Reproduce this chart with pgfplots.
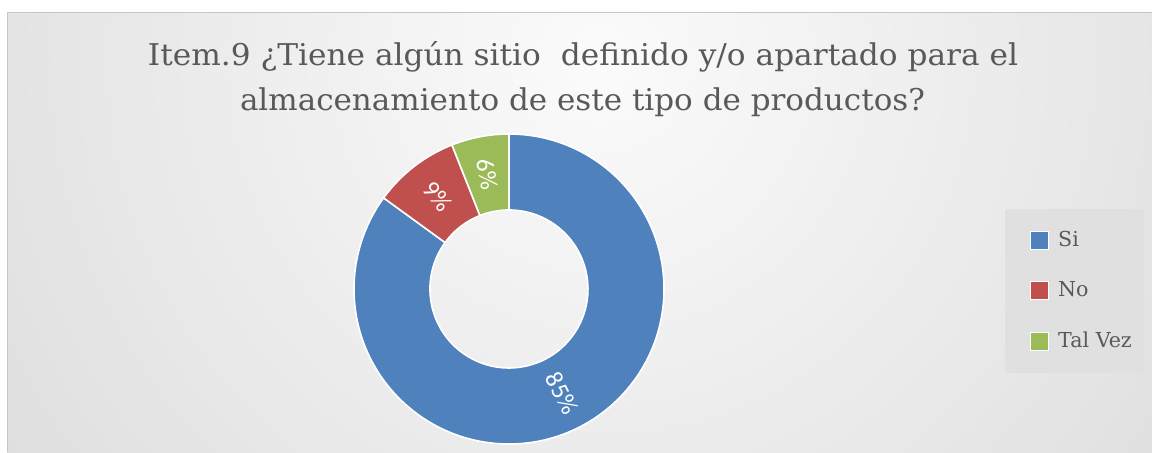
\documentclass[border=0pt]{standalone}
\usepackage{pgfplots}
\pgfplotsset{compat=1.18}
\usepackage{pgfplotstable}
\usepackage{fontspec}
\setmainfont{DejaVu Serif}
\newfontfamily\lblfont{Carlito}
\definecolor{siblue}{RGB}{79,129,189}
\definecolor{nored}{RGB}{192,80,77}
\definecolor{tvgreen}{RGB}{155,187,89}
\definecolor{titlegray}{RGB}{89,89,89}
\definecolor{bggray}{RGB}{200,200,200}
\definecolor{bglight}{RGB}{251,251,251}
\definecolor{legfill}{RGB}{224,224,224}

\pgfplotstableread[col sep=comma]{
label,value
Si,85
No,9
Tal Vez,6
}\donutdata

\newcommand\slice[3]{%
  \fill[#1, draw=white, line width=0.8pt, line join=round]
    (axis cs:{cos(#2)},{sin(#2)}) arc[start angle=#2, end angle=#3, radius=77.5pt]
    -- (axis cs:{0.51*cos(#3)},{0.51*sin(#3)}) arc[start angle=#3, end angle=#2, radius=39.5pt]
    -- cycle;}
\newcommand\slicelabel[3]{%
  \node[text=white, font=\lblfont\fontsize{12.5}{14}\selectfont, rotate=#2, inner sep=0pt]
    at (axis cs:{0.755*cos(#1)},{0.755*sin(#1)}) {#3\%};}

\begin{document}
\begin{tikzpicture}
\pgfplotstablegetelem{0}{value}\of\donutdata \let\vA\pgfplotsretval
\pgfplotstablegetelem{1}{value}\of\donutdata \let\vB\pgfplotsretval
\pgfplotstablegetelem{2}{value}\of\donutdata \let\vC\pgfplotsretval
\pgfmathsetmacro\aA{90}
\pgfmathsetmacro\aB{\aA-3.6*\vA}
\pgfmathsetmacro\aC{\aB-3.6*\vB}
\pgfmathsetmacro\aD{\aC-3.6*\vC}
\pgfmathsetmacro\mA{(\aA+\aB)/2}
\pgfmathsetmacro\mB{(\aB+\aC)/2}
\pgfmathsetmacro\mC{(\aC+\aD)/2}
\pgfmathsetmacro\rA{cos(\mA)>=0 ? \mA : \mA+180}
\pgfmathsetmacro\rB{cos(\mB)>=0 ? \mB : \mB+180}
\pgfmathsetmacro\rC{cos(\mC)>=0 ? \mC : \mC+180}

\begin{scope}[x=0.5pt,y=-0.5pt]
\useasboundingbox (0,0) rectangle (1152,452);
\fill[white] (0,0) rectangle (1152,452);
\begin{scope}
\clip (7,12) rectangle (1152,452);
\fill[bggray] (7,12) rectangle (1152,452);
\shade[inner color=bglight, outer color=bggray] (600,60) circle (650pt);
\end{scope}
\draw[gray!45, line width=0.5pt] (7,452) -- (7,12) -- (1152,12);
\node[anchor=base, text=titlegray, inner sep=0pt] at (583,65)
  {\resizebox{435pt}{\height}{\fontsize{15}{18}\selectfont Item.9 ¿Tiene algún sitio~ definido y/o apartado para el}};
\node[anchor=base, text=titlegray, inner sep=0pt] at (582.5,110)
  {\resizebox{342.5pt}{\height}{\fontsize{15}{18}\selectfont almacenamiento de este tipo de productos?}};
\end{scope}

\begin{axis}[
  at={(254.5pt,-144.5pt)}, anchor=center,
  scale only axis, width=155pt, height=155pt,
  xmin=-1, xmax=1, ymin=-1, ymax=1,
  hide axis, clip=false,
  legend style={at={(2.1,0.761)}, anchor=north west,
    draw=none, fill=legfill, text=titlegray,
    font=\fontsize{10.3}{12}\selectfont,
    inner xsep=4pt, inner ysep=9.5pt, row sep=12pt,
    /tikz/every even column/.append style={column sep=0pt},
    /tikz/every odd column/.append style={column sep=2.5pt}},
  legend cell align=left,
  legend image code/.code={\path (0pt,0pt); \draw[#1, draw=white, line width=0.4pt] (8.5pt,-4.5pt) rectangle (17.5pt,4.5pt);},
]
\addlegendimage{fill=siblue}
\addlegendentry{Si}
\addlegendimage{fill=nored}
\addlegendentry{No}
\addlegendimage{fill=tvgreen}
\addlegendentry{Tal Vez}
\slice{siblue}{\aA}{\aB}
\slice{nored}{\aB}{\aC}
\slice{tvgreen}{\aC}{\aD}
\slicelabel{\mA}{\rA}{\vA}
\slicelabel{\mB}{\rB}{\vB}
\slicelabel{\mC}{\rC}{\vC}
\end{axis}
\end{tikzpicture}
\end{document}
